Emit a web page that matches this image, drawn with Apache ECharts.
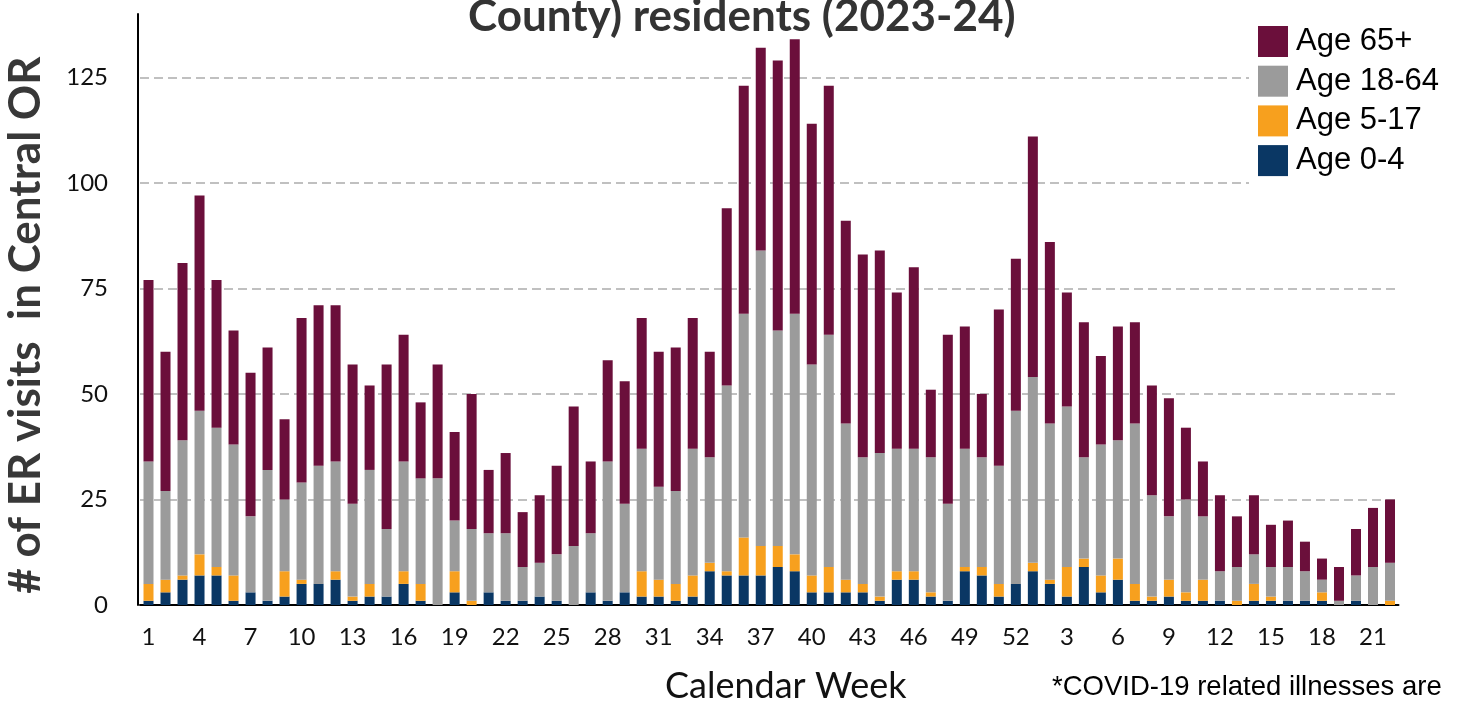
<!DOCTYPE html>
<html>
<head>
    <meta charset="utf-8">
    <title>ER visits by age</title>
    <script src="https://cdn.jsdelivr.net/npm/echarts@6/dist/echarts.min.js"></script>
    <style>
        html, body { margin: 0; padding: 0; background: #fff; }
    </style>
</head>
<body>
    <div id="main" style="width: 1460px;height:703px;"></div>
    <script type="text/javascript">
        // calendar weeks, 2023 wk1 .. 2024 wk22
        var weeks = [1, 2, 3, 4, 5, 6, 7, 8, 9, 10, 11, 12, 13, 14, 15, 16, 17, 18, 19, 20,
            21, 22, 23, 24, 25, 26, 27, 28, 29, 30, 31, 32, 33, 34, 35, 36, 37, 38, 39, 40,
            41, 42, 43, 44, 45, 46, 47, 48, 49, 50, 51, 52,
            1, 2, 3, 4, 5, 6, 7, 8, 9, 10, 11, 12, 13, 14, 15, 16, 17, 18, 19, 20, 21, 22];

        var age0to4 = [1, 3, 6, 7, 7, 1, 3, 1, 2, 5, 5, 6, 1, 2, 2, 5, 1, 0, 3, 0,
            3, 1, 1, 2, 1, 0, 3, 1, 3, 2, 2, 1, 2, 8, 7, 7, 7, 9, 8, 3,
            3, 3, 3, 1, 6, 6, 2, 1, 8, 7, 2, 5,
            8, 5, 2, 9, 3, 6, 1, 1, 2, 1, 1, 1, 0, 1, 1, 1, 1, 1, 0, 1, 0, 0];
        var age5to17 = [4, 3, 1, 5, 2, 6, 0, 0, 6, 1, 0, 2, 1, 3, 0, 3, 4, 0, 5, 1,
            0, 0, 0, 0, 0, 0, 0, 0, 0, 6, 4, 4, 5, 2, 1, 9, 7, 5, 4, 4,
            6, 3, 2, 1, 2, 2, 1, 0, 1, 2, 3, 0,
            2, 1, 7, 2, 4, 5, 4, 1, 4, 2, 5, 0, 1, 4, 1, 0, 0, 2, 0, 0, 0, 1];
        var age18to64 = [29, 21, 32, 34, 33, 31, 18, 31, 17, 23, 28, 26, 22, 27, 16, 26, 25, 30, 12, 17,
            14, 16, 8, 8, 11, 14, 14, 33, 21, 29, 22, 22, 30, 25, 44, 53, 70, 51, 57, 50,
            55, 37, 30, 34, 29, 29, 32, 23, 28, 26, 28, 41,
            44, 37, 38, 24, 31, 28, 38, 24, 15, 22, 15, 7, 8, 7, 7, 8, 7, 3, 1, 6, 9, 9];
        var age65plus = [43, 33, 42, 51, 35, 27, 34, 29, 19, 39, 38, 37, 33, 20, 39, 30, 18, 27, 21, 32,
            15, 19, 13, 16, 21, 33, 17, 24, 29, 31, 32, 34, 31, 25, 42, 54, 48, 64, 65, 57,
            59, 48, 48, 48, 37, 43, 16, 40, 29, 15, 37, 36,
            57, 43, 27, 32, 21, 27, 24, 26, 28, 17, 13, 18, 12, 14, 10, 11, 7, 5, 8, 11, 14, 15];

        var seriesNames = ['Age 0-4', 'Age 5-17', 'Age 18-64', 'Age 65+'];
        var seriesColors = ['#0a3764', '#f7a01e', '#9b9b9b', '#6b0f3b'];
        var seriesData = [age0to4, age5to17, age18to64, age65plus];

        var myChart = echarts.init(document.getElementById('main'));

        var series = seriesData.map(function (d, i) {
            return {
                name: seriesNames[i],
                type: 'bar',
                stack: 'visits',
                barWidth: 10,
                itemStyle: { color: seriesColors[i] },
                data: d
            };
        });

        var option = {
            animation: false,
            backgroundColor: '#fff',
            title: [{
                text: 'County) residents (2023-24)',
                left: 468,
                top: -5,
                padding: 0,
                textStyle: {
                    fontFamily: 'Lato',
                    fontWeight: 'bold',
                    fontSize: 44,
                    color: '#333'
                }
            }, {
                text: 'Calendar Week',
                left: 665,
                top: 668,
                padding: 0,
                textStyle: {
                    fontFamily: 'Lato',
                    fontWeight: 'normal',
                    fontSize: 36,
                    color: '#111'
                }
            }, {
                text: '*COVID-19 related illnesses are',
                left: 1052,
                top: 673,
                padding: 0,
                textStyle: {
                    fontFamily: 'Liberation Sans',
                    fontWeight: 'normal',
                    fontSize: 27.5,
                    color: '#000'
                }
            }],
            legend: {
                data: ['Age 65+', 'Age 18-64', 'Age 5-17', 'Age 0-4'],
                orient: 'vertical',
                left: 1249,
                top: 17,
                padding: [9, 12, 14, 9],
                backgroundColor: '#fff',
                icon: 'rect',
                itemWidth: 30,
                itemHeight: 31,
                itemGap: 8.7,
                textStyle: {
                    fontFamily: 'Liberation Sans',
                    fontSize: 31,
                    color: '#000',
                    padding: [0, 0, 0, 3]
                }
            },
            grid: {
                left: 140,
                right: 61.5,
                top: 14,
                bottom: 98,
                containLabel: false,
                outerBoundsMode: 'none'
            },
            xAxis: {
                type: 'category',
                data: weeks,
                axisTick: { show: false },
                axisLine: { lineStyle: { color: '#000', width: 2 } },
                axisLabel: {
                    interval: 2,
                    margin: 20,
                    fontFamily: 'Lato',
                    fontSize: 24,
                    color: '#111'
                }
            },
            yAxis: {
                type: 'value',
                min: 0,
                max: 140,
                interval: 25,
                offset: 2,
                name: '# of ER visits  in Central OR',
                nameLocation: 'middle',
                nameGap: 90,
                nameTextStyle: {
                    fontFamily: 'Lato',
                    fontWeight: 'bold',
                    fontSize: 44,
                    color: '#383838',
                    padding: [0, 31, 0, 0]
                },
                axisLine: { show: true, lineStyle: { color: '#000', width: 2 } },
                axisTick: { show: false },
                axisLabel: {
                    margin: 30,
                    showMaxLabel: false,
                    fontFamily: 'Lato',
                    fontSize: 24,
                    color: '#111'
                },
                splitLine: {
                    showMinLine: false,
                    showMaxLine: false,
                    lineStyle: { color: '#c0c0c0', width: 2, type: [9, 5] }
                }
            },
            series: series
        };

        myChart.setOption(option);
    </script>
</body>
</html>
